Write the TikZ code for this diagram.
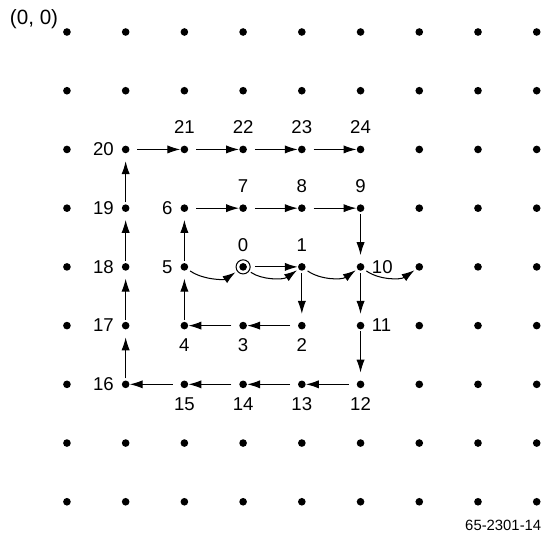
\documentclass[tikz,border=0pt]{standalone}
\usepackage{fontspec}
\setmainfont{Liberation Sans}
\usetikzlibrary{arrows.meta}

\begin{document}
\begin{tikzpicture}
  \tikzstyle{every node}=[font=\fontsize{9}{11}\selectfont]
  \tikzstyle{dot}=[circle, fill, inner sep=0pt, minimum size=0.13cm]
  \tikzstyle{move}=[-{Latex[length=0.22cm,width=0.14cm]}, line width=0.5pt]
  \tikzstyle{moveH}=[move, shorten <=0.2cm, shorten >=0.07cm]
  \tikzstyle{moveV}=[move, shorten <=0.1cm, shorten >=0.2cm]
  \tikzstyle{hop}=[move, bend right=35, shorten <=0.12cm, shorten >=0.1cm]
  \tikzstyle{lblN}=[above=0.14cm]
  \tikzstyle{lblS}=[below=0.1cm]
  \tikzstyle{lblW}=[left=0.08cm]
  \tikzstyle{lblE}=[right=0.07cm]

  \useasboundingbox (-1.14,0.545) rectangle (8.09,-8.64);

  % lattice points
  \foreach \i in {0,...,8}
    \foreach \j in {0,...,8}
      \node[dot] (d-\i-\j) at (\i,-\j) {};

  \node[font=\fontsize{10}{12}\selectfont] (origin) at (-0.56,0.22) {(0, 0)};
  \node[font=\fontsize{7.2}{9}\selectfont] (figno) at (7.43,-8.40) {65-2301-14};

  % start point
  \draw[line width=0.5pt] (d-3-4) circle (0.12cm);

  % numbered points of the search
  \foreach \n/\p/\where in {0/3-4/lblN, 1/4-4/lblN, 2/4-5/lblS, 3/3-5/lblS,
      4/2-5/lblS, 5/2-4/lblW, 6/2-3/lblW, 7/3-3/lblN, 8/4-3/lblN, 9/5-3/lblN,
      10/5-4/lblE, 11/5-5/lblE, 12/5-6/lblS, 13/4-6/lblS, 14/3-6/lblS,
      15/2-6/lblS, 16/1-6/lblW, 17/1-5/lblW, 18/1-4/lblW, 19/1-3/lblW,
      20/1-2/lblW, 21/2-2/lblN, 22/3-2/lblN, 23/4-2/lblN, 24/5-2/lblN}
  {
    \coordinate (p\n) at (d-\p);
    \node[\where] (t\n) at (p\n) {\n};
  }

  % spiral
  \foreach \a/\b/\s in {0/1/moveH, 1/2/moveV, 2/3/moveH, 3/4/moveH, 4/5/moveV,
      5/6/moveV, 6/7/moveH, 7/8/moveH, 8/9/moveH, 9/10/moveV, 10/11/moveV,
      11/12/moveV, 12/13/moveH, 13/14/moveH, 14/15/moveH, 15/16/moveH,
      16/17/moveV, 17/18/moveV, 18/19/moveV, 19/20/moveV, 20/21/moveH,
      21/22/moveH, 22/23/moveH, 23/24/moveH}
    \draw[\s] (p\a) -- (p\b);

  % hops
  \draw[hop, shorten >=0.16cm] (p5) to (p0);
  \draw[hop, shorten <=0.16cm] (p0) to (p1);
  \draw[hop] (p1) to (p10);
  \draw[hop] (p10) to (d-6-4.center);

\end{tikzpicture}
\end{document}
